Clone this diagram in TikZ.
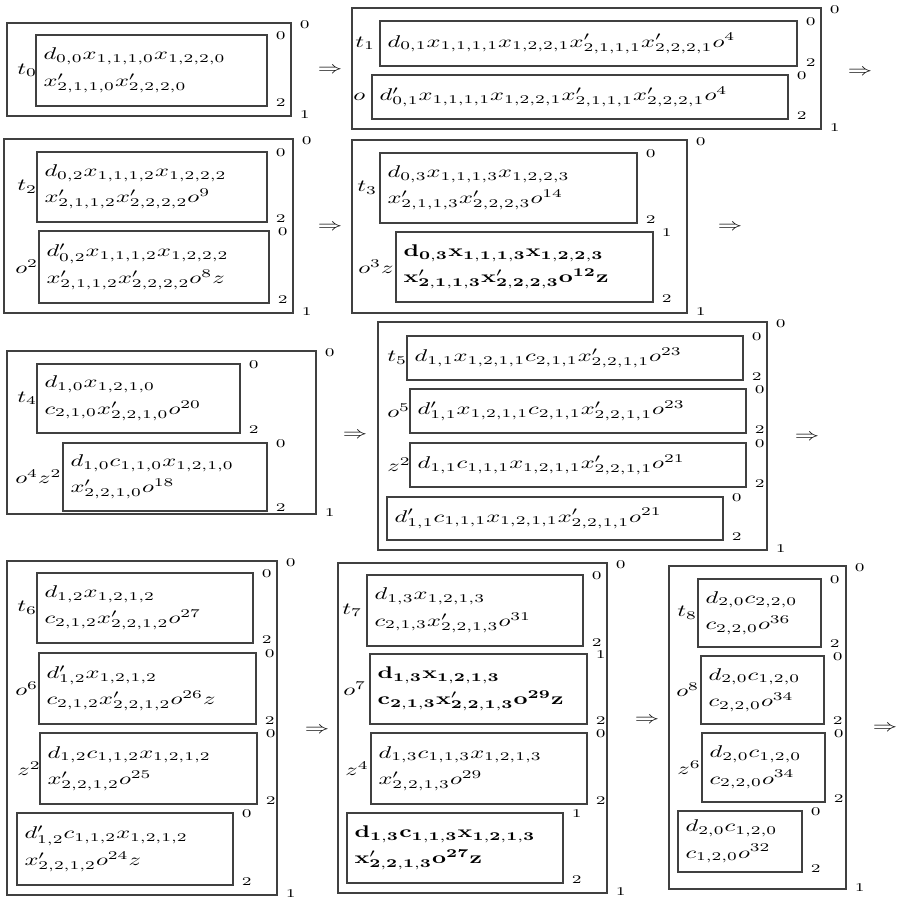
\documentclass[tikz,border=0pt]{standalone}
\usepackage{amsmath,amssymb}
\usepackage{graphicx}
\usepackage{xcolor}
\usepackage{tikz}
\usetikzlibrary{fit}
\newcommand{\wx}[1]{\scalebox{1.44}[1]{#1}}

\begin{document}
\begin{tikzpicture}[
  x=0.59pt,y=-0.59pt,
  lab/.style={font=\scriptsize,inner sep=0pt,anchor=center},
  obox/.style={draw=black!75,line width=0.7pt,inner sep=0pt,
    label={[lab,xshift=7.7pt,yshift=-1.2pt]north east:\wx{0}},
    label={[lab,xshift=7.7pt,yshift=1.2pt]south east:\wx{1}}},
  ibox/.style={draw=black!75,line width=0.7pt,inner sep=0pt,
    label={[lab,xshift=7.7pt,yshift=-0.6pt]north east:\wx{#1}},
    label={[lab,xshift=7.7pt,yshift=2.1pt]south east:\wx{2}}},
  ibox/.default=0,
  txt/.style={anchor=west,align=left,inner xsep=4.6pt,inner ysep=0pt,
    font={\fontsize{10}{15.5}\selectfont\lineskiplimit -20pt\relax}},
  tag/.style={anchor=west,inner sep=0pt},
  imp/.style={inner sep=0pt}
]
\useasboundingbox (0,0) rectangle (898,900);

\node[obox,fit={(7,23) (291,116)}] (o1) {};
\node[ibox,fit={(36,35) (267,106)}] (b0) {};
\node[tag] (b0g) at (17,0 |- b0.west) {\wx{$t_0$}};
\node[txt] (b0t) at (b0.west) {\wx{$d_{0,0}x_{1,1,1,0}x_{1,2,2,0}$}\\\wx{$x'_{2,1,1,0}x'_{2,2,2,0}$}};
\node[imp] (a1) at (330,70) {\wx{$\Rightarrow$}};

\node[obox,fit={(352,8) (821,129)}] (o2) {};
\node[ibox,fit={(380,21) (797,66)}] (b1) {};
\node[tag] (b1g) at (355,0 |- b1.west) {\wx{$t_1$}};
\node[txt] (b1t) at (b1.west) {\wx{$d_{0,1}x_{1,1,1,1}x_{1,2,2,1}x'_{2,1,1,1}x'_{2,2,2,1}o^4$}};
\node[ibox,fit={(372,75) (788,119)}] (b2) {};
\node[tag] (b2g) at (353,0 |- b2.west) {\wx{$o$}};
\node[txt] (b2t) at (b2.west) {\wx{$d'_{0,1}x_{1,1,1,1}x_{1,2,2,1}x'_{2,1,1,1}x'_{2,2,2,1}o^4$}};
\node[imp] (a2) at (860,72) {\wx{$\Rightarrow$}};

\node[obox,fit={(4,139) (293,313)}] (o3) {};
\node[ibox,fit={(37,152) (267,222)}] (b3) {};
\node[tag] (b3g) at (17,0 |- b3.west) {\wx{$t_2$}};
\node[txt] (b3t) at (b3.west) {\wx{$d_{0,2}x_{1,1,1,2}x_{1,2,2,2}$}\\\wx{$x'_{2,1,1,2}x'_{2,2,2,2}o^9$}};
\node[ibox,fit={(39,231) (269,303)}] (b4) {};
\node[tag] (b4g) at (15,0 |- b4.west) {\wx{$o^2$}};
\node[txt] (b4t) at (b4.west) {\wx{$d'_{0,2}x_{1,1,1,2}x_{1,2,2,2}$}\\\wx{$x'_{2,1,1,2}x'_{2,2,2,2}o^8z$}};
\node[imp] (a3) at (330,227) {\wx{$\Rightarrow$}};

\node[obox,fit={(352,140) (687,313)}] (o4) {};
\node[ibox,fit={(380,153) (637,223)}] (b5) {};
\node[tag] (b5g) at (357,0 |- b5.west) {\wx{$t_3$}};
\node[txt] (b5t) at (b5.west) {\wx{$d_{0,3}x_{1,1,1,3}x_{1,2,2,3}$}\\\wx{$x'_{2,1,1,3}x'_{2,2,2,3}o^{14}$}};
\node[ibox=1,fit={(396,232) (653,302)}] (b6) {};
\node[tag] (b6g) at (358,0 |- b6.west) {\wx{$o^3z$}};
\node[txt] (b6t) at (b6.west) {\wx{$\mathbf{d_{0,3}x_{1,1,1,3}x_{1,2,2,3}}$}\\\wx{$\mathbf{x'_{2,1,1,3}x'_{2,2,2,3}o^{12}z}$}};
\node[imp] (a4) at (730,227) {\wx{$\Rightarrow$}};

\node[obox,fit={(7,351) (316,514)}] (o5) {};
\node[ibox,fit={(37,364) (240,433)}] (b7) {};
\node[tag] (b7g) at (17,0 |- b7.west) {\wx{$t_4$}};
\node[txt] (b7t) at (b7.west) {\wx{$d_{1,0}x_{1,2,1,0}$}\\\wx{$c_{2,1,0}x'_{2,2,1,0}o^{20}$}};
\node[ibox,fit={(63,443) (267,511)}] (b8) {};
\node[tag] (b8g) at (15,0 |- b8.west) {\wx{$o^4z^2$}};
\node[txt] (b8t) at (b8.west) {\wx{$d_{1,0}c_{1,1,0}x_{1,2,1,0}$}\\\wx{$x'_{2,2,1,0}o^{18}$}};
\node[imp] (a5) at (355,435) {\wx{$\Rightarrow$}};

\node[obox,fit={(378,322) (767,550)}] (o6) {};
\node[ibox,fit={(407,336) (743,380)}] (b9) {};
\node[tag] (b9g) at (387,0 |- b9.west) {\wx{$t_5$}};
\node[txt] (b9t) at (b9.west) {\wx{$d_{1,1}x_{1,2,1,1}c_{2,1,1}x'_{2,2,1,1}o^{23}$}};
\node[ibox,fit={(410,389) (746,433)}] (b10) {};
\node[tag] (b10g) at (387,0 |- b10.west) {\wx{$o^5$}};
\node[txt] (b10t) at (b10.west) {\wx{$d'_{1,1}x_{1,2,1,1}c_{2,1,1}x'_{2,2,1,1}o^{23}$}};
\node[ibox,fit={(410,443) (746,487)}] (b11) {};
\node[tag] (b11g) at (387,0 |- b11.west) {\wx{$z^2$}};
\node[txt] (b11t) at (b11.west) {\wx{$d_{1,1}c_{1,1,1}x_{1,2,1,1}x'_{2,2,1,1}o^{21}$}};
\node[ibox,fit={(387,497) (723,540)}] (b12) {};
\node[txt] (b12t) at (b12.west) {\wx{$d'_{1,1}c_{1,1,1}x_{1,2,1,1}x'_{2,2,1,1}o^{21}$}};
\node[imp] (a6) at (807,437) {\wx{$\Rightarrow$}};

\node[obox,fit={(7,561) (277,895)}] (o7) {};
\node[ibox,fit={(37,573) (253,643)}] (b13) {};
\node[tag] (b13g) at (17,0 |- b13.west) {\wx{$t_6$}};
\node[txt] (b13t) at (b13.west) {\wx{$d_{1,2}x_{1,2,1,2}$}\\\wx{$c_{2,1,2}x'_{2,2,1,2}o^{27}$}};
\node[ibox,fit={(39,653) (256,724)}] (b14) {};
\node[tag] (b14g) at (15,0 |- b14.west) {\wx{$o^6$}};
\node[txt] (b14t) at (b14.west) {\wx{$d'_{1,2}x_{1,2,1,2}$}\\\wx{$c_{2,1,2}x'_{2,2,1,2}o^{26}z$}};
\node[ibox,fit={(40,733) (257,804)}] (b15) {};
\node[tag] (b15g) at (17,0 |- b15.west) {\wx{$z^2$}};
\node[txt] (b15t) at (b15.west) {\wx{$d_{1,2}c_{1,1,2}x_{1,2,1,2}$}\\\wx{$x'_{2,2,1,2}o^{25}$}};
\node[ibox,fit={(17,813) (233,885)}] (b16) {};
\node[txt] (b16t) at (b16.west) {\wx{$d'_{1,2}c_{1,1,2}x_{1,2,1,2}$}\\\wx{$x'_{2,2,1,2}o^{24}z$}};
\node[imp] (a7) at (317,730) {\wx{$\Rightarrow$}};

\node[obox,fit={(338,563) (607,893)}] (o8) {};
\node[ibox,fit={(367,575) (583,646)}] (b17) {};
\node[tag] (b17g) at (342,0 |- b17.west) {\wx{$t_7$}};
\node[txt] (b17t) at (b17.west) {\wx{$d_{1,3}x_{1,2,1,3}$}\\\wx{$c_{2,1,3}x'_{2,2,1,3}o^{31}$}};
\node[ibox=1,fit={(370,654) (587,724)}] (b18) {};
\node[tag] (b18g) at (343,0 |- b18.west) {\wx{$o^7$}};
\node[txt] (b18t) at (b18.west) {\wx{$\mathbf{d_{1,3}x_{1,2,1,3}}$}\\\wx{$\mathbf{c_{2,1,3}x'_{2,2,1,3}o^{29}z}$}};
\node[ibox,fit={(371,733) (587,804)}] (b19) {};
\node[tag] (b19g) at (345,0 |- b19.west) {\wx{$z^4$}};
\node[txt] (b19t) at (b19.west) {\wx{$d_{1,3}c_{1,1,3}x_{1,2,1,3}$}\\\wx{$x'_{2,2,1,3}o^{29}$}};
\node[ibox=1,fit={(347,813) (563,883)}] (b20) {};
\node[txt] (b20t) at (b20.west) {\wx{$\mathbf{d_{1,3}c_{1,1,3}x_{1,2,1,3}}$}\\\wx{$\mathbf{x'_{2,2,1,3}o^{27}z}$}};
\node[imp] (a8) at (647,720) {\wx{$\Rightarrow$}};

\node[obox,fit={(669,566) (846,889)}] (o9) {};
\node[ibox,fit={(698,579) (821,647)}] (b21) {};
\node[tag] (b21g) at (677,0 |- b21.west) {\wx{$t_8$}};
\node[txt] (b21t) at (b21.west) {\wx{$d_{2,0}c_{2,2,0}$}\\\wx{$c_{2,2,0}o^{36}$}};
\node[ibox,fit={(701,656) (824,724)}] (b22) {};
\node[tag] (b22g) at (676,0 |- b22.west) {\wx{$o^8$}};
\node[txt] (b22t) at (b22.west) {\wx{$d_{2,0}c_{1,2,0}$}\\\wx{$c_{2,2,0}o^{34}$}};
\node[ibox,fit={(702,733) (825,802)}] (b23) {};
\node[tag] (b23g) at (677,0 |- b23.west) {\wx{$z^6$}};
\node[txt] (b23t) at (b23.west) {\wx{$d_{2,0}c_{1,2,0}$}\\\wx{$c_{2,2,0}o^{34}$}};
\node[ibox,fit={(678,811) (802,872)}] (b24) {};
\node[txt] (b24t) at (b24.west) {\wx{$d_{2,0}c_{1,2,0}$}\\\wx{$c_{1,2,0}o^{32}$}};
\node[imp] (a9) at (885,728) {\wx{$\Rightarrow$}};
\end{tikzpicture}
\end{document}
